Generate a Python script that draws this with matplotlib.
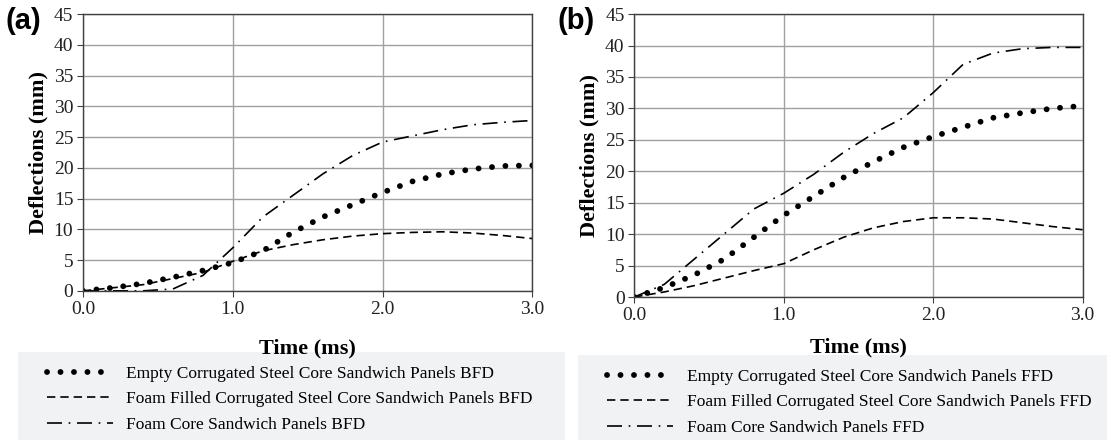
import matplotlib
matplotlib.use("Agg")
import matplotlib.pyplot as plt
from matplotlib.patches import Rectangle

# time axis (ms)
time_ms = [0.0, 0.2, 0.4, 0.6, 0.8, 1.0, 1.2, 1.4, 1.6, 1.8, 2.0, 2.2, 2.4, 2.6, 2.8, 3.0]

# (a) back face deflection
empty_bfd = [0, 0.5, 1.2, 2.2, 3.3, 4.6, 6.5, 9.5, 12.0, 14.0, 16.0, 17.8, 19.0, 19.8, 20.3, 20.4]
filled_bfd = [0, 0.5, 1.0, 2.0, 3.0, 4.8, 6.5, 7.5, 8.3, 8.9, 9.3, 9.5, 9.6, 9.4, 9.0, 8.5]
core_bfd = [0, 0.0, 0.0, 0.3, 2.5, 7.0, 12.0, 15.5, 19.0, 22.0, 24.2, 25.2, 26.2, 27.0, 27.4, 27.7]

# (b) front face deflection
empty_ffd = [0, 1.5, 3.5, 6.0, 9.5, 13.0, 16.0, 19.0, 21.5, 23.8, 25.5, 27.0, 28.5, 29.3, 30.0, 30.4]
filled_ffd = [0, 0.8, 1.8, 3.0, 4.2, 5.3, 7.5, 9.5, 11.0, 12.0, 12.6, 12.6, 12.4, 11.8, 11.2, 10.7]
core_ffd = [0, 2.0, 6.0, 10.0, 14.0, 16.5, 19.5, 23.0, 26.0, 28.5, 32.5, 37.0, 38.8, 39.5, 39.7, 39.7]

x_ticks = [0.0, 1.0, 2.0, 3.0]
y_ticks = list(range(0, 50, 5))

serif = "Liberation Serif"
dot_style = (0, (0.01, 2.3))
dash_style = (0, (5, 3))
dashdot_style = (0, (9, 4, 1, 4))

fig = plt.figure(figsize=(11.07, 4.4), dpi=100)

# grey legend backgrounds
fig.patches.append(Rectangle((0.016, 0.0), 0.494, 0.20, transform=fig.transFigure,
                             facecolor="#f1f2f4", edgecolor="none", zorder=-1))
fig.patches.append(Rectangle((0.522, 0.0), 0.478, 0.193, transform=fig.transFigure,
                             facecolor="#f1f2f4", edgecolor="none", zorder=-1))

panels = [
    ([0.075, 0.339, 0.406, 0.629], "(a)", empty_bfd, filled_bfd, core_bfd, "BFD", 0.016, 0.20, 15),
    ([0.573, 0.325, 0.405, 0.643], "(b)", empty_ffd, filled_ffd, core_ffd, "FFD", 0.522, 0.193, 10),
]

for rect, tag, empty, filled, core, suffix, lx, ltop, xpad in panels:
    ax = fig.add_axes(rect)
    l1, = ax.plot(time_ms, empty, color="black", lw=4.2, linestyle=dot_style,
                  dash_capstyle="round", solid_capstyle="round")
    l2, = ax.plot(time_ms, filled, color="black", lw=1.2, linestyle=dash_style)
    l3, = ax.plot(time_ms, core, color="black", lw=1.2, linestyle=dashdot_style)

    ax.set_xlim(0, 3.0)
    ax.set_ylim(0, 45)
    ax.set_xticks(x_ticks)
    ax.set_xticklabels([f"{t:.1f}" for t in x_ticks])
    ax.set_yticks(y_ticks)
    ax.grid(True, color="#a0a0a0", lw=1.0)
    ax.set_axisbelow(True)
    for s in ax.spines.values():
        s.set_color("#404040")
        s.set_linewidth(1.0)
    ax.tick_params(labelsize=14, length=4, color="#404040", direction="out", pad=3)
    for lab in ax.get_xticklabels() + ax.get_yticklabels():
        lab.set_fontfamily(serif)
        lab.set_color("#222222")
    ax.set_xlabel("Time (ms)", fontfamily=serif, fontweight="bold", fontsize=16, labelpad=xpad)
    ax.set_ylabel("Deflections (mm)", fontfamily=serif, fontweight="bold", fontsize=16, labelpad=4)
    ax.text(-0.172, 0.975, tag, transform=ax.transAxes, fontfamily="Liberation Sans",
            fontweight="bold", fontsize=21, ha="left", va="center")

    fig.legend([l1, l2, l3],
               [f"Empty Corrugated Steel Core Sandwich Panels {suffix}",
                f"Foam Filled Corrugated Steel Core Sandwich Panels {suffix}",
                f"Foam Core Sandwich Panels {suffix}"],
               loc="upper left", bbox_to_anchor=(lx + 0.012, ltop + 0.005),
               frameon=False, prop={"family": serif, "size": 12.5},
               handlelength=3.8, labelspacing=0.55, handletextpad=0.8)

fig.savefig("out.png", dpi=100)
